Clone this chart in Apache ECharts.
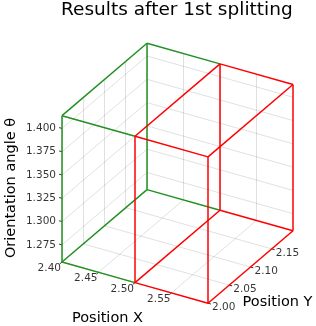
<!DOCTYPE html>
<html>
<head>
<meta charset="utf-8">
<script src="https://cdn.jsdelivr.net/npm/echarts@6/dist/echarts.min.js"></script>
<style>html,body{margin:0;padding:0;background:#fff;}#c{width:316px;height:326px;}</style>
</head>
<body>
<div id="c"></div>
<script>
// ---- data ----
const xTicks = [2.40, 2.45, 2.50, 2.55];
const yTicks = [2.00, 2.05, 2.10, 2.15];
const zTicks = [1.275, 1.300, 1.325, 1.350, 1.375, 1.400];
const xLim = [2.40, 2.60];
const yLim = [2.00, 2.20];
const zLim = [1.2566, 1.4137];
const greenX = [2.40, 2.50];
const greenY = [2.00, 2.20];
const greenZ = [1.2566, 1.4137];
const redX = [2.50, 2.60];
const redY = [2.00, 2.20];
const redZ = [1.2566, 1.4137];

// ---- projection (layout) ----
const O = [62, 262];
const EX = [730, 206];
const EY = [425, -362];
const EZ = 931.4;
function P(x, y, z) {
  const dx = x - xLim[0], dy = y - yLim[0], dz = z - zLim[0];
  return [O[0] + dx * EX[0] + dy * EY[0], O[1] + dx * EX[1] + dy * EY[1] - dz * EZ];
}
function seg(a, b) { return { coords: [a, b] }; }
function boxEdges3(X, Y, Z) {
  const e = [];
  for (const y of Y) for (const z of Z) e.push([[X[0], y, z], [X[1], y, z]]);
  for (const x of X) for (const z of Z) e.push([[x, Y[0], z], [x, Y[1], z]]);
  for (const x of X) for (const y of Y) e.push([[x, y, Z[0]], [x, y, Z[1]]]);
  return e;
}
const key = e => e.map(p => p.map(v => v.toFixed(4)).join(',')).join('|');
const redEdges3 = boxEdges3(redX, redY, redZ);
const redKeys = new Set(redEdges3.map(key));
const greenEdges3 = boxEdges3(greenX, greenY, greenZ).filter(e => !redKeys.has(key(e)));
const toSeg = e => seg(P(...e[0]), P(...e[1]));

const grid = [];
for (const yt of yTicks) grid.push(seg(P(xLim[0], yt, zLim[0]), P(xLim[0], yt, zLim[1])));
for (const zt of zTicks) grid.push(seg(P(xLim[0], yLim[0], zt), P(xLim[0], yLim[1], zt)));
for (const xt of xTicks) grid.push(seg(P(xt, yLim[1], zLim[0]), P(xt, yLim[1], zLim[1])));
for (const zt of zTicks) grid.push(seg(P(xLim[0], yLim[1], zt), P(xLim[1], yLim[1], zt)));
for (const xt of xTicks) grid.push(seg(P(xt, yLim[0], zLim[0]), P(xt, yLim[1], zLim[0])));
for (const yt of yTicks) grid.push(seg(P(xLim[0], yt, zLim[0]), P(xLim[1], yt, zLim[0])));

function unit(v) { const l = Math.hypot(v[0], v[1]); return [v[0] / l, v[1] / l]; }
const uX = unit(EX), uY = unit(EY);
const tickLen = 3;
const ticks = [];
for (const xt of xTicks) { const p = P(xt, yLim[0], zLim[0]); ticks.push(seg(p, [p[0] - uY[0] * tickLen, p[1] - uY[1] * tickLen])); }
for (const yt of yTicks) { const p = P(xLim[1], yt, zLim[0]); ticks.push(seg(p, [p[0] + uX[0] * tickLen, p[1] + uX[1] * tickLen])); }
for (const zt of zTicks) { const p = P(xLim[0], yLim[0], zt); ticks.push(seg(p, [p[0] - uX[0] * tickLen, p[1] - uX[1] * tickLen])); }

const tickFont = { fontFamily: 'DejaVu Sans', fontSize: 10.5, color: '#000' };
function labelSeries(vals, dec, fn, align, offset) {
  return {
    type: 'scatter', symbolSize: 0, silent: true,
    data: vals.map(v => ({ value: fn(v), name: v.toFixed(dec) })),
    label: Object.assign({ show: true, position: [0, 0], align: align, verticalAlign: 'middle', offset: offset, formatter: p => p.name }, tickFont)
  };
}

const chart = echarts.init(document.getElementById('c'), null, { renderer: 'canvas' });
chart.setOption({
  animation: false,
  backgroundColor: '#fff',
  title: { text: 'Results after 1st splitting', left: 61, top: 1, padding: 0, textStyle: { fontFamily: 'DejaVu Sans', fontSize: 18.5, fontWeight: 'normal', color: '#000' } },
  grid: { left: 0, top: 0, width: 316, height: 326 },
  xAxis: { type: 'value', min: 0, max: 316, show: false },
  yAxis: { type: 'value', min: 0, max: 326, inverse: true, show: false },
  series: [
    { type: 'lines', coordinateSystem: 'cartesian2d', silent: true, data: grid, lineStyle: { color: 'rgba(0,0,0,0.12)', width: 1, opacity: 1 } },
    { type: 'lines', coordinateSystem: 'cartesian2d', silent: true, data: ticks, lineStyle: { color: '#333', width: 1, opacity: 1 } },
    { type: 'lines', coordinateSystem: 'cartesian2d', silent: true, data: greenEdges3.map(toSeg), lineStyle: { color: '#229022', width: 1.5, opacity: 1 } },
    { type: 'lines', coordinateSystem: 'cartesian2d', silent: true, data: redEdges3.map(toSeg), lineStyle: { color: '#ff0000', width: 1.5, opacity: 1 } },
    labelSeries(xTicks, 2, v => P(v, yLim[0], zLim[0]), 'right', [-1, 6.3]),
    labelSeries(yTicks, 2, v => P(xLim[1], v, zLim[0]), 'left', [4, 4.5]),
    labelSeries(zTicks, 3, v => P(xLim[0], yLim[0], v), 'right', [-6, 0])
  ],
  graphic: [
    { type: 'text', x: 107.5, y: 318.3, style: { text: 'Position X', font: '14.5px "DejaVu Sans"', fill: '#000', align: 'center', verticalAlign: 'middle' } },
    { type: 'text', x: 277.5, y: 302.7, style: { text: 'Position Y', font: '14.5px "DejaVu Sans"', fill: '#000', align: 'center', verticalAlign: 'middle' } },
    { type: 'text', x: 11, y: 188, rotation: Math.PI / 2, style: { text: 'Orientation angle θ', font: '14.5px "DejaVu Sans"', fill: '#000', align: 'center', verticalAlign: 'middle' } }
  ]
});
</script>
</body>
</html>
